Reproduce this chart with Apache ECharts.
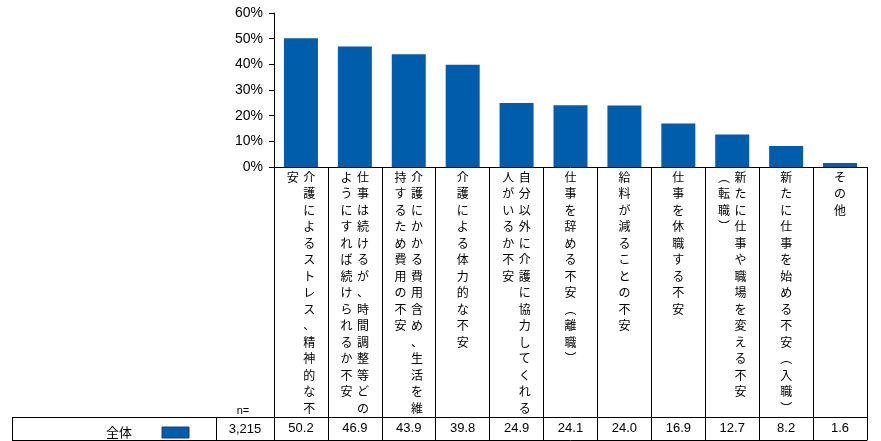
<!DOCTYPE html>
<html><head><meta charset="utf-8">
<script src="https://cdn.jsdelivr.net/npm/echarts@6/dist/echarts.min.js"></script>
<style>html,body{margin:0;padding:0;background:#fff}#c{width:881px;height:441px}</style>
</head><body><div id="c"></div>
<script>
const categories = [
  '介護によるストレス、精神的な不安',
  '仕事は続けるが、時間調整等どのようにすれば続けられるか不安',
  '介護にかかる費用含め、生活を維持するため費用の不安',
  '介護による体力的な不安',
  '自分以外に介護に協力してくれる人がいるか不安',
  '仕事を辞める不安（離職）',
  '給料が減ることの不安',
  '仕事を休職する不安',
  '新たに仕事や職場を変える不安（転職）',
  '新たに仕事を始める不安（入職）',
  'その他'
];
const values = [50.2, 46.9, 43.9, 39.8, 24.9, 24.1, 24.0, 16.9, 12.7, 8.2, 1.6];
const seriesName = '全体';
const sampleLabel = 'n=';
const sampleSize = '3,215';
const yMin = 0, yMax = 60, yStep = 10;

const JP = '"Noto Sans CJK JP", "Noto Sans", sans-serif';
const LAT = '"Liberation Sans", Arial, sans-serif';
const MAXROWS = 15;
const VMAP = {'（': '︵', '）': '︶'};
const NO_END = '（';

function splitCols(s) {
  const chars = Array.from(s);
  const cols = [];
  let i = 0;
  while (i < chars.length) {
    let n = Math.min(MAXROWS, chars.length - i);
    if (i + n < chars.length && NO_END.includes(chars[i + n - 1])) n--;
    cols.push(chars.slice(i, i + n));
    i += n;
  }
  return cols;
}
function vertical(s) {
  const cols = splitCols(s);
  const rows = cols[0].length;
  const lines = [];
  for (let r = 0; r < rows; r++) {
    let line = '';
    for (let c = cols.length - 1; c >= 0; c--) {
      const ch = cols[c][r] || '　';
      line += '{c|' + (VMAP[ch] || ch) + '}';
    }
    lines.push(line);
  }
  return lines.join('\n');
}

const chart = echarts.init(document.getElementById('c'), null, {renderer: 'canvas'});
chart.setOption({
  animation: false,
  backgroundColor: '#fff',
  grid: {left: 274, right: 14, top: 13, bottom: 274, outerBoundsMode: 'none', containLabel: false},
  legend: {
    data: [seriesName], left: 101, top: 421, align: 'right', icon: 'rect',
    itemWidth: 27, itemHeight: 11, selectedMode: false,
    itemStyle: {borderColor: '#1F3F74', borderWidth: 1},
    textStyle: {fontSize: 13, fontFamily: JP, color: '#000', padding: [0, 25, 0, 0]}
  },
  xAxis: [
    {
      type: 'category', data: categories, position: 'bottom',
      axisLine: {lineStyle: {color: '#000', width: 1}},
      axisTick: {show: true, length: 250, interval: 0, lineStyle: {color: '#000'}},
      axisLabel: {
        interval: 0, margin: 2, color: '#000', formatter: vertical,
        rich: {c: {width: 16.5, align: 'center', fontSize: 12, lineHeight: 16.5, fontFamily: JP, color: '#000'}}
      }
    },
    {
      type: 'category', data: values.map(v => v.toFixed(1)), position: 'bottom', offset: 250,
      axisLine: {lineStyle: {color: '#000', width: 1}},
      axisTick: {show: true, length: 23, interval: 0, lineStyle: {color: '#000'}},
      axisLabel: {interval: 0, margin: 5, fontSize: 13, fontFamily: LAT, color: '#000'}
    },
    {
      type: 'category', data: categories, position: 'bottom', offset: 273,
      axisLine: {lineStyle: {color: '#000', width: 1}},
      axisTick: {show: false}, axisLabel: {show: false}
    }
  ],
  yAxis: {
    type: 'value', min: yMin, max: yMax, interval: yStep,
    axisLine: {show: true, lineStyle: {color: '#000'}},
    axisTick: {show: true, length: 5, lineStyle: {color: '#000'}},
    splitLine: {show: false},
    axisLabel: {formatter: '{value}%', fontSize: 14, fontFamily: LAT, color: '#000', margin: 11}
  },
  series: [{
    name: seriesName, type: 'bar', data: values, barWidth: 34,
    itemStyle: {color: '#005DAC'}
  }],
  graphic: [
    {type: 'line', shape: {x1: 12, y1: 417.5, x2: 274, y2: 417.5}, style: {stroke: '#000', lineWidth: 1}},
    {type: 'line', shape: {x1: 12, y1: 440.5, x2: 274, y2: 440.5}, style: {stroke: '#000', lineWidth: 1}},
    {type: 'line', shape: {x1: 12.5, y1: 417, x2: 12.5, y2: 441}, style: {stroke: '#000', lineWidth: 1}},
    {type: 'line', shape: {x1: 216.5, y1: 417, x2: 216.5, y2: 441}, style: {stroke: '#000', lineWidth: 1}},
    {type: 'text', x: 243, y: 411, style: {text: sampleLabel, fontSize: 11, fontFamily: LAT, fill: '#000', align: 'center', verticalAlign: 'middle'}},
    {type: 'text', x: 245, y: 429, style: {text: sampleSize, fontSize: 13, fontFamily: LAT, fill: '#000', align: 'center', verticalAlign: 'middle'}}
  ]
});
</script>
</body></html>
